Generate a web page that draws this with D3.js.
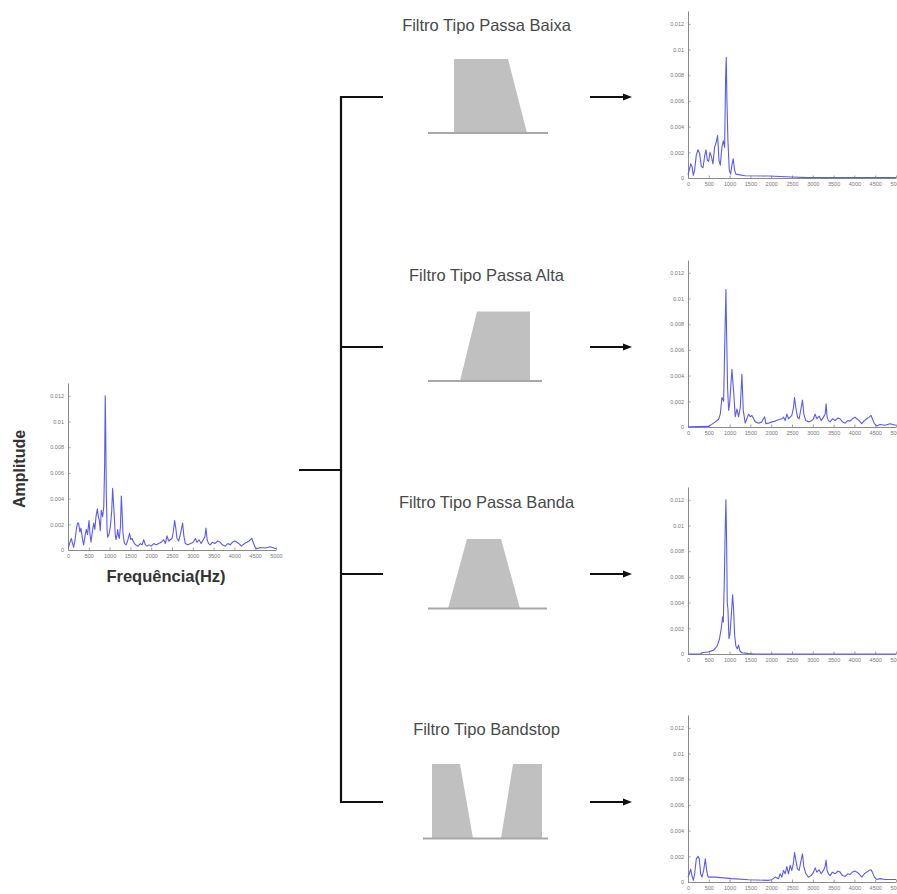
<!DOCTYPE html>
<html>
<head>
<meta charset="utf-8">
<script src="https://cdn.jsdelivr.net/npm/d3@7"></script>
<style>
  html, body { margin: 0; padding: 0; background: #fff; }
  svg { display: block; }
</style>
</head>
<body>
<svg id="chart" width="897" height="894"></svg>
<script>
// ---------------- DATA ----------------
const filterTitles = ["Filtro Tipo Passa Baixa", "Filtro Tipo Passa Alta", "Filtro Tipo Passa Banda", "Filtro Tipo Bandstop"];
const xAxisLabel = "Frequência(Hz)";
const yAxisLabel = "Amplitude";
const xTickValues = [0, 500, 1000, 1500, 2000, 2500, 3000, 3500, 4000, 4500, 5000];
const xTickLabels = ["0", "500", "1000", "1500", "2000", "2500", "3000", "3500", "4000", "4500", "5000"];
const yTickValues = [0, 0.002, 0.004, 0.006, 0.008, 0.01, 0.012];
const yTickLabels = ["0", "0.002", "0.004", "0.006", "0.008", "0.01", "0.012"];

// [frequency Hz, amplitude]
const originalSpectrum = [
[0,0.0003],[16,0.00026],[48,0.0006],[80,0.0009],[110,0.0005],[136,0.0002],[170,0.0008],[200,0.0016],[230,0.0021],[256,0.0021],[285,0.0014],[312,0.0017],[345,0.0009],[376,0.0004],[410,0.0011],[440,0.0016],[470,0.0012],[505,0.0023],[530,0.0012],[553,0.0006],[585,0.0014],[617,0.0021],[645,0.0016],[673,0.0026],[705,0.0032],[730,0.0026],[753,0.0023],[775,0.0015],[800,0.0031],[833,0.0026],[860,0.0034],[880,0.0065],[895,0.012],[905,0.0098],[920,0.0045],[940,0.0016],[953,0.001],[985,0.0012],[1017,0.0018],[1050,0.003],[1073,0.0048],[1095,0.0036],[1113,0.0026],[1135,0.0012],[1153,0.0008],[1175,0.0011],[1193,0.0016],[1215,0.0011],[1233,0.0009],[1260,0.0018],[1282,0.0042],[1300,0.003],[1322,0.0013],[1345,0.0007],[1362,0.0005],[1400,0.0004],[1440,0.0008],[1480,0.0013],[1510,0.0008],[1538,0.0009],[1580,0.0006],[1620,0.0004],[1680,0.0003],[1740,0.0005],[1780,0.0004],[1820,0.0008],[1860,0.0004],[1900,0.0003],[1950,0.0004],[2000,0.0003],[2060,0.0005],[2120,0.0004],[2180,0.0005],[2240,0.0006],[2300,0.0008],[2340,0.0005],[2380,0.0011],[2420,0.0007],[2460,0.0008],[2500,0.0009],[2530,0.0014],[2563,0.0023],[2595,0.0016],[2620,0.0009],[2660,0.0007],[2700,0.0012],[2755,0.0021],[2785,0.0011],[2820,0.0005],[2880,0.0004],[2950,0.0005],[3010,0.0006],[3060,0.0009],[3100,0.0006],[3150,0.0008],[3200,0.0005],[3250,0.0008],[3290,0.001],[3316,0.0017],[3345,0.0008],[3380,0.0005],[3420,0.0004],[3470,0.0006],[3530,0.0005],[3600,0.0007],[3660,0.0006],[3710,0.0004],[3780,0.0003],[3840,0.0005],[3900,0.0004],[3950,0.0006],[4010,0.0007],[4060,0.0006],[4110,0.0005],[4170,0.0003],[4240,0.0005],[4300,0.0006],[4350,0.0007],[4420,0.0009],[4450,0.0006],[4500,0.0002],[4540,0.0001],[4620,0.0002],[4740,0.00015],[4860,0.00025],[5000,0.0001]
];

const lowPassSpectrum = [
[0,0.00026],[32,0.00064],[64,0.0011],[96,0.0009],[128,0.0002],[160,0.00064],[200,0.0018],[240,0.0022],[280,0.0019],[320,0.0009],[360,0.0008],[400,0.0017],[432,0.0022],[464,0.0014],[496,0.0013],[528,0.002],[560,0.0017],[600,0.0011],[640,0.0024],[680,0.0028],[712,0.0033],[744,0.0014],[776,0.001],[816,0.0024],[848,0.0029],[880,0.0024],[904,0.0078],[920,0.0094],[936,0.006],[960,0.0029],[992,0.0006],[1024,0.0003],[1056,0.001],[1088,0.0015],[1120,0.0006],[1152,0.0003],[1216,0.00026],[1376,0.00018],[1936,0.00015],[2496,0.00008],[2896,0.00003],[5000,0.00003]
];

const highPassSpectrum = [
[0,0.00002],[500,0.00005],[656,0.0004],[736,0.0006],[776,0.001],[816,0.0023],[856,0.002],[880,0.0059],[912,0.0107],[928,0.0072],[952,0.003],[976,0.0013],[1000,0.0018],[1056,0.0045],[1096,0.0028],[1136,0.0008],[1176,0.0014],[1216,0.0008],[1256,0.0015],[1296,0.0041],[1328,0.0013],[1376,0.0003],[1456,0.001],[1496,0.0008],[1536,0.0009],[1616,0.0004],[1696,0.0003],[1776,0.0004],[1840,0.0008],[1872,0.00026],[1936,0.0003],[2016,0.0004],[2096,0.00046],[2176,0.00057],[2256,0.00064],[2296,0.00077],[2336,0.0005],[2376,0.001],[2416,0.00064],[2456,0.00077],[2496,0.0009],[2536,0.0015],[2560,0.0023],[2592,0.0015],[2632,0.00077],[2672,0.00064],[2720,0.0015],[2752,0.0021],[2784,0.001],[2832,0.0005],[2896,0.0004],[2960,0.00046],[3016,0.00064],[3056,0.001],[3096,0.00064],[3152,0.00085],[3200,0.0005],[3256,0.00077],[3296,0.001],[3320,0.0018],[3344,0.00077],[3376,0.0005],[3416,0.0004],[3472,0.00064],[3536,0.0005],[3600,0.0007],[3656,0.00064],[3712,0.0004],[3776,0.0003],[3840,0.0005],[3896,0.00046],[3952,0.00064],[4016,0.00077],[4056,0.00064],[4112,0.0005],[4176,0.00026],[4240,0.0005],[4296,0.00064],[4352,0.00077],[4400,0.0009],[4432,0.00064],[4480,0.00026],[4536,0.00008],[4616,0.0002],[4736,0.00013],[4856,0.00026],[5000,0.00013]
];

const bandPassSpectrum = [
[0,0],[300,0],[336,0.0001],[496,0.00018],[616,0.0003],[696,0.0006],[752,0.0011],[800,0.002],[832,0.0029],[848,0.0025],[872,0.0056],[896,0.01],[912,0.012],[928,0.0087],[944,0.004],[960,0.0035],[984,0.0012],[1008,0.0015],[1040,0.003],[1072,0.0046],[1096,0.0035],[1120,0.0015],[1152,0.0006],[1184,0.0004],[1216,0.0007],[1248,0.00023],[1296,0.0001],[1456,0.00003],[1600,0],[5000,0]
];

const bandStopSpectrum = [
[0,0.00038],[32,0.00064],[64,0.001],[96,0.0005],[128,0.00013],[160,0.00064],[200,0.0018],[240,0.002],[272,0.0018],[304,0.00064],[336,0.00038],[376,0.0009],[416,0.0018],[448,0.0009],[472,0.0005],[496,0.00038],[656,0.00038],[1056,0.00026],[1456,0.00018],[1936,0.00013],[2016,0.00018],[2096,0.00038],[2176,0.00026],[2216,0.00064],[2256,0.00038],[2296,0.0009],[2336,0.00064],[2376,0.0012],[2416,0.00064],[2456,0.0013],[2496,0.0009],[2536,0.0015],[2560,0.0023],[2592,0.0017],[2632,0.001],[2672,0.0009],[2720,0.0017],[2752,0.0022],[2784,0.0012],[2832,0.00064],[2896,0.00038],[2960,0.0005],[3016,0.00077],[3056,0.0011],[3096,0.00077],[3152,0.00095],[3200,0.00064],[3256,0.0009],[3296,0.0012],[3320,0.0017],[3344,0.0009],[3376,0.00064],[3416,0.0005],[3472,0.00077],[3536,0.00064],[3600,0.00085],[3656,0.00077],[3712,0.0005],[3776,0.00044],[3840,0.00064],[3896,0.00059],[3952,0.00077],[4016,0.00085],[4056,0.00077],[4112,0.00064],[4176,0.00038],[4240,0.00064],[4296,0.00077],[4352,0.0009],[4400,0.00095],[4432,0.00077],[4480,0.00038],[4536,0.0002],[4616,0.00026],[4736,0.0002],[5000,0.0002]
];

// ---------------- LAYOUT ----------------
const svg = d3.select("#chart");
const plotW = 208, plotH = 167;
const xDomain = [0, 5000], yDomain = [0, 0.013];
const lineColor = "#5b5bf2";
const axisColor = "#8a8a8a";

function drawSpectrum(x0, bottom, data) {
  const x = d3.scaleLinear().domain(xDomain).range([x0, x0 + plotW]);
  const y = d3.scaleLinear().domain(yDomain).range([bottom, bottom - plotH]);
  const g = svg.append("g");

  const yAxis = d3.axisLeft(y).tickValues(yTickValues)
    .tickFormat((d, i) => yTickLabels[i]).tickSizeInner(-2.5).tickSizeOuter(0).tickPadding(4);
  const xAxis = d3.axisBottom(x).tickValues(xTickValues)
    .tickFormat((d, i) => xTickLabels[i]).tickSizeInner(-2.5).tickSizeOuter(0).tickPadding(4);

  const gy = g.append("g").attr("transform", `translate(${x0},0)`).call(yAxis);
  const gx = g.append("g").attr("transform", `translate(0,${bottom})`).call(xAxis);
  [gy, gx].forEach(a => {
    a.select(".domain").attr("stroke", axisColor).attr("stroke-width", 1);
    a.selectAll(".tick line").attr("stroke", axisColor).attr("stroke-width", 0.8);
    a.selectAll(".tick text").attr("fill", "#777").attr("font-size", 5.5)
      .attr("font-family", "Liberation Sans, Arial, sans-serif");
  });

  const line = d3.line().x(d => x(d[0])).y(d => y(d[1]));
  g.append("path").datum(data).attr("d", line)
    .attr("fill", "none").attr("stroke", lineColor).attr("stroke-width", 1.1)
    .attr("stroke-linejoin", "round");
}

// Left (input) spectrum
drawSpectrum(68, 550, originalSpectrum);
svg.append("text").attr("x", 166).attr("y", 582).attr("text-anchor", "middle")
  .attr("font-family", "Liberation Sans, Arial, sans-serif").attr("font-weight", "bold")
  .attr("font-size", 16.5).attr("fill", "#333").text(xAxisLabel);
svg.append("text").attr("transform", "translate(25,469) rotate(-90)").attr("text-anchor", "middle")
  .attr("font-family", "Liberation Sans, Arial, sans-serif").attr("font-weight", "bold")
  .attr("font-size", 16).attr("fill", "#333").text(yAxisLabel);

// Right (filtered) spectra
const rightBottoms = [178, 427, 654, 882];
const rightData = [lowPassSpectrum, highPassSpectrum, bandPassSpectrum, bandStopSpectrum];
rightData.forEach((d, i) => drawSpectrum(688, rightBottoms[i], d));

// Bracket
const rowY = [97, 347, 574, 802];
const bracketX = 341;
const ink = "#111";
svg.append("line").attr("x1", 299).attr("x2", bracketX).attr("y1", 470).attr("y2", 470)
  .attr("stroke", ink).attr("stroke-width", 2.2);
svg.append("line").attr("x1", bracketX).attr("x2", bracketX).attr("y1", rowY[0] - 1).attr("y2", rowY[3] + 1)
  .attr("stroke", ink).attr("stroke-width", 2.2);
rowY.forEach(yy => {
  svg.append("line").attr("x1", bracketX).attr("x2", 383).attr("y1", yy).attr("y2", yy)
    .attr("stroke", ink).attr("stroke-width", 2.2);
  // arrows
  svg.append("line").attr("x1", 590).attr("x2", 625).attr("y1", yy).attr("y2", yy)
    .attr("stroke", ink).attr("stroke-width", 2);
  svg.append("path").attr("d", `M632,${yy} L623,${yy - 3.5} L623,${yy + 3.5} Z`).attr("fill", ink);
});

// Filter titles
const titleY = [31, 281, 508, 735];
filterTitles.forEach((t, i) => {
  svg.append("text").attr("x", 486.5).attr("y", titleY[i]).attr("text-anchor", "middle")
    .attr("font-family", "Liberation Sans, Arial, sans-serif").attr("font-size", 16.5)
    .attr("fill", "#4a4a4a").text(t);
});

// Filter shape icons (response outlines)
const shapeFill = "#c0c0c0";
const baseStroke = "#a8a8a8";
const filterShapes = [
  { base: [428, 548, 133], polys: [[[454, 133], [454, 59], [508, 59], [527, 133]]] },
  { base: [428, 542, 381], polys: [[[460, 381], [477, 311.5], [530, 311.5], [530, 381]]] },
  { base: [428, 547, 608.5], polys: [[[448, 608.5], [467, 539], [501, 539], [520, 608.5]]] },
  { base: [423, 548, 838.5], polys: [[[432, 838.5], [432, 764], [460, 764], [473, 838.5]],
                                     [[501, 838.5], [513, 764], [542, 764], [542, 838.5]]] }
];
filterShapes.forEach(s => {
  s.polys.forEach(p => {
    svg.append("polygon").attr("points", p.map(q => q.join(",")).join(" ")).attr("fill", shapeFill);
  });
  svg.append("line").attr("x1", s.base[0]).attr("x2", s.base[1]).attr("y1", s.base[2]).attr("y2", s.base[2])
    .attr("stroke", baseStroke).attr("stroke-width", 2);
});
</script>
</body>
</html>
